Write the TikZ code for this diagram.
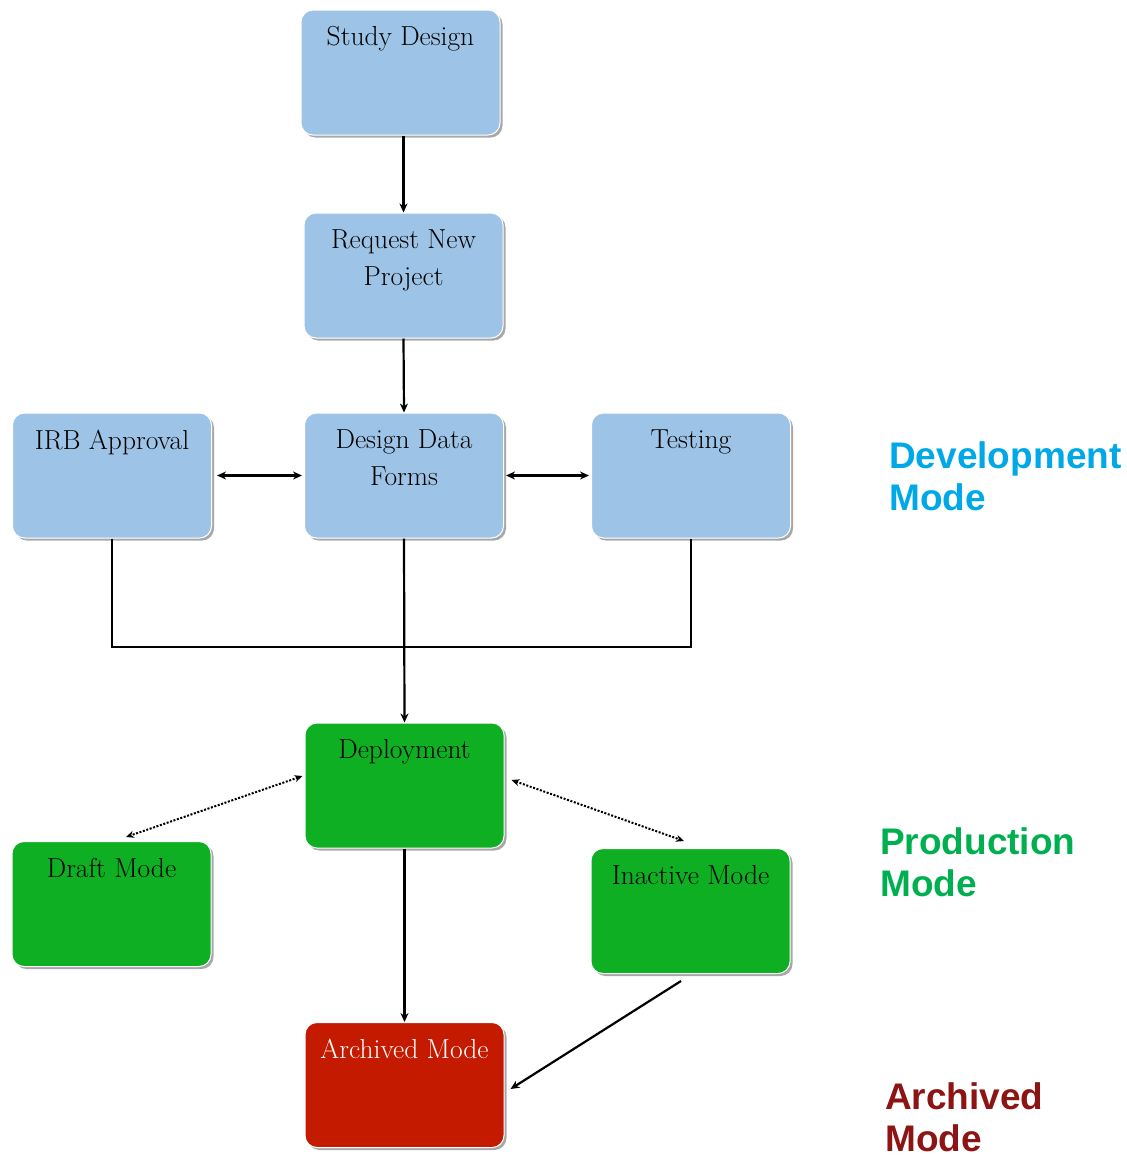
\documentclass[tikz,border=0pt]{standalone}
\usepackage{fontspec}
\newfontfamily\labfont{Liberation Sans}
\usetikzlibrary{arrows.meta,shadows,calc}
\definecolor{boxblue}{RGB}{157,195,230}
\definecolor{boxgreen}{RGB}{14,175,35}
\definecolor{boxred}{RGB}{196,26,0}
\definecolor{devblue}{RGB}{0,168,232}
\definecolor{prodgreen}{RGB}{0,176,80}
\definecolor{archred}{RGB}{140,20,20}
\begin{document}
\begin{tikzpicture}[x=1pt,y=-1pt,
  box/.style={rectangle, rounded corners=12pt, minimum width=199pt, minimum height=125pt, inner sep=0pt,
    draw=white, line width=1pt,
    drop shadow={shadow xshift=2.5pt, shadow yshift=-2.5pt, fill=black!40, opacity=0.85}},
  bluebox/.style={box, fill=boxblue},
  greenbox/.style={box, fill=boxgreen},
  redbox/.style={box, fill=boxred},
  boxtext/.style={anchor=north, inner sep=0pt, align=center, font=\fontsize{27.5}{37}\selectfont},
  conn/.style={line width=2.2pt, draw=black},
  arr/.style={conn, -{Stealth[length=9pt,width=8pt]}},
  darr/.style={conn, {Stealth[length=9pt,width=8pt]}-{Stealth[length=9pt,width=8pt]}},
  dotarr/.style={line width=2pt, dash pattern=on 2pt off 1.6pt, {Stealth[length=8pt,width=7pt]}-{Stealth[length=8pt,width=7pt]}},
  modelab/.style={anchor=north west, inner sep=0pt, align=left, font=\labfont\bfseries\fontsize{37}{42}\selectfont}
]
\useasboundingbox (0,0) rectangle (1127,1157);

\node[bluebox] (study) at (400.5,72.5) {};
\node[boxtext] at ($(study.north)+(0,17)$) {Study Design};
\node[bluebox] (request) at (403.5,275.5) {};
\node[boxtext] at ($(request.north)+(0,17)$) {Request New\\Project};
\node[bluebox] (irb) at (112,475.5) {};
\node[boxtext] at ($(irb.north)+(0,17)$) {IRB Approval};
\node[bluebox] (ddf) at (404,475.5) {};
\node[boxtext] at ($(ddf.north)+(0,17)$) {Design Data\\Forms};
\node[bluebox] (testing) at (691,475.5) {};
\node[boxtext] at ($(testing.north)+(0,17)$) {Testing};

\node[greenbox] (deploy) at (404.5,785.5) {};
\node[boxtext] at ($(deploy.north)+(0,17)$) {Deployment};
\node[greenbox] (draft) at (111.5,904) {};
\node[boxtext] at ($(draft.north)+(0,17)$) {Draft Mode};
\node[greenbox] (inactive) at (690.5,911) {};
\node[boxtext] at ($(inactive.north)+(0,17)$) {Inactive Mode};
\node[redbox] (archived) at (404.5,1085) {};
\node[boxtext, text=white] at ($(archived.north)+(0,17)$) {Archived Mode};

\coordinate (bar) at (404,647);

\draw[arr] (study.south -| request.north) -- (request.north);
\draw[arr] (request.south) -- (ddf.north);
\draw[darr, shorten <=5pt, shorten >=2pt] (irb.east) -- (ddf.west);
\draw[darr, shorten <=2pt, shorten >=2pt] (ddf.east) -- (testing.west);
\draw[conn] (irb.south) |- (bar) -| (testing.south);
\draw[arr] (ddf.south) -- (deploy.north);
\draw[dotarr] ($(deploy.west)+(-2,-9.5)$) -- ($(draft.north)+(14.5,-4)$);
\draw[dotarr] ($(deploy.east)+(7,-5.5)$) -- ($(inactive.north)+(-6.5,-7)$);
\draw[arr] (deploy.south) -- (archived.north);
\draw[arr] ($(inactive.south)+(-9.5,7)$) -- ($(archived.east)+(6,4)$);

\node[modelab, text=devblue] (devlab) at (889,441) {Development\\Mode};
\node[modelab, text=prodgreen] (prodlab) at (880,827) {Production\\Mode};
\node[modelab, text=archred] (archlab) at (885,1082) {Archived\\Mode};
\end{tikzpicture}
\end{document}
